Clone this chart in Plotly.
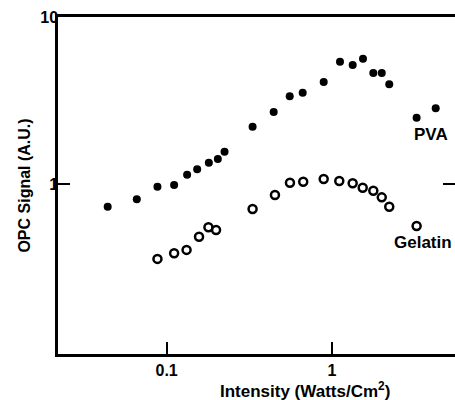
import plotly.graph_objects as go

# PVA (filled circles)
pva_x = [0.044, 0.066, 0.088, 0.111, 0.133, 0.153, 0.180, 0.204, 0.224, 0.331, 0.444, 0.555,
         0.665, 0.891, 1.118, 1.334, 1.54, 1.778, 2.0, 2.22, 3.25, 4.24]
pva_y = [0.731, 0.81, 0.964, 0.986, 1.137, 1.224, 1.341, 1.411, 1.561, 2.20, 2.70, 3.35,
         3.52, 4.08, 5.40, 5.16, 5.63, 4.62, 4.62, 3.95, 2.49, 2.84]

# Gelatin (open circles)
gel_x = [0.088, 0.111, 0.132, 0.157, 0.179, 0.199, 0.331, 0.452, 0.557, 0.670, 0.891, 1.107,
         1.334, 1.534, 1.778, 2.0, 2.22, 3.25]
gel_y = [0.356, 0.385, 0.403, 0.483, 0.551, 0.530, 0.709, 0.859, 1.018, 1.032, 1.071, 1.042,
         1.01, 0.95, 0.912, 0.832, 0.731, 0.560]

x_tickvals = [0.1, 1]
x_ticktext = ["0.1", "1"]
y_tickvals = [1, 10]
y_ticktext = ["1", "10"]

FONT = "Liberation Sans"

fig = go.Figure()
fig.add_trace(go.Scatter(x=pva_x, y=pva_y, mode="markers", name="PVA",
                         marker=dict(symbol="circle", size=8, color="black")))
fig.add_trace(go.Scatter(x=gel_x, y=gel_y, mode="markers", name="Gelatin",
                         marker=dict(symbol="circle-open", size=8, color="black",
                                     line=dict(width=2.5, color="black"))))

fig.update_layout(
    width=455, height=400,
    margin=dict(l=58, r=0, t=17, b=46, autoexpand=False),
    paper_bgcolor="white", plot_bgcolor="white",
    showlegend=False,
    font=dict(family=FONT, size=15, color="black"),
    xaxis=dict(type="log", range=[-1.657, 0.744], showgrid=False, zeroline=False,
               automargin=False,
               showline=True, linecolor="black", linewidth=2.5, mirror=True,
               ticks="inside", ticklen=12, tickwidth=2, tickcolor="black",
               tickvals=x_tickvals, ticktext=x_ticktext,
               tickfont=dict(family=FONT, size=16, color="black", weight="bold")),
    yaxis=dict(type="log", range=[-1.018, 1.0], showgrid=False, zeroline=False,
               automargin=False,
               showline=True, linecolor="black", linewidth=2.5, mirror="ticks",
               ticks="inside", ticklen=12, tickwidth=2, tickcolor="black",
               tickvals=y_tickvals, ticktext=y_ticktext, ticklabelstandoff=-6,
               tickfont=dict(family=FONT, size=16, color="black", weight="bold"),
               title=dict(text="OPC Signal (A.U.)", standoff=6,
                          font=dict(family=FONT, size=16, color="black", weight="bold"))),
    annotations=[
        dict(text="Intensity (Watts/Cm<sup>2</sup>)", xref="paper", yref="paper",
             x=0.622, y=-0.107, xanchor="center", yanchor="middle", showarrow=False,
             font=dict(family=FONT, size=17, color="black", weight="bold")),
        dict(text="PVA", xref="x", yref="y", x=0.599, y=0.299, showarrow=False,
             xanchor="center", yanchor="middle",
             font=dict(family=FONT, size=17, color="black", weight="bold")),
        dict(text="Gelatin", xref="x", yref="y", x=0.550, y=-0.353, showarrow=False,
             xanchor="center", yanchor="middle",
             font=dict(family=FONT, size=17, color="black", weight="bold")),
    ],
)

fig.write_html("out.html", config={"displayModeBar": False},
               post_script="document.body.style.margin='0';document.body.style.padding='0';")
